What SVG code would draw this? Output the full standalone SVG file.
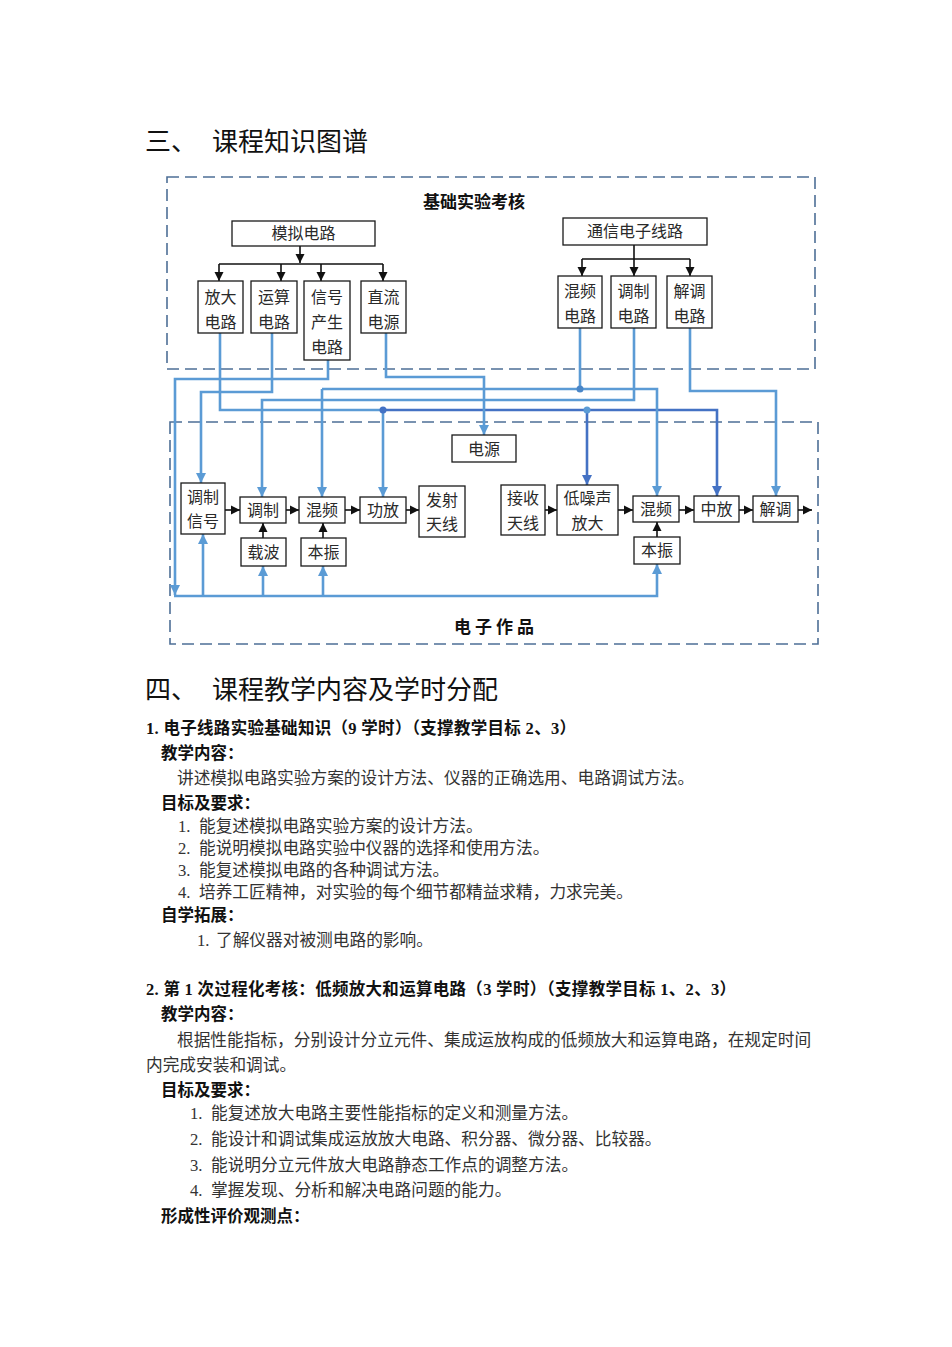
<svg xmlns="http://www.w3.org/2000/svg" width="952" height="1347" viewBox="0 0 952 1347">
<style>
.bg{fill:#fff}
.dash{fill:none;stroke:#4E6F96;stroke-width:1.6;stroke-dasharray:12 6}
.box{fill:#fff;stroke:#1a1a1a;stroke-width:1.3}
.bt{font-family:"Liberation Serif","Noto Sans CJK SC",serif;font-size:16px;fill:#2a2a2a;text-anchor:middle}
.ttl{font-family:"Noto Sans CJK SC",sans-serif;font-size:17px;font-weight:bold;fill:#111;text-anchor:middle}
.blk{fill:none;stroke:#111;stroke-width:1.6}
.bl{fill:none;stroke:#5B9BD5;stroke-width:2.6}
.dk{fill:none;stroke:#4472C4;stroke-width:2.6}
.h1{font-family:"Noto Sans CJK SC",sans-serif;font-size:26px;fill:#111}
.hb{font-family:"Liberation Serif","Noto Sans CJK SC",serif;font-size:16.5px;font-weight:bold;fill:#111}
.tx{font-family:"Liberation Serif","Noto Sans CJK SC",serif;font-size:16.7px;fill:#333}
</style>
<defs>
<marker id="ab" markerUnits="userSpaceOnUse" markerWidth="10" markerHeight="10" refX="9" refY="5" orient="auto"><path d="M0,0.5 L9,5 L0,9.5 z" fill="#111"/></marker>
<marker id="ablue" markerUnits="userSpaceOnUse" markerWidth="11" markerHeight="11" refX="10" refY="5.5" orient="auto"><path d="M0,0.5 L10,5.5 L0,10.5 z" fill="#5B9BD5"/></marker>
<marker id="adark" markerUnits="userSpaceOnUse" markerWidth="11" markerHeight="11" refX="10" refY="5.5" orient="auto"><path d="M0,0.5 L10,5.5 L0,10.5 z" fill="#4472C4"/></marker>
</defs>
<rect class="bg" x="0" y="0" width="952" height="1347"/>

<!-- headings -->
<text class="h1" x="145" y="151">三、</text>
<text class="h1" x="212" y="151">课程知识图谱</text>

<!-- dashed frames -->
<g id="frame-top"><rect class="dash" x="167" y="177" width="648" height="192"/>
<text class="ttl" x="474" y="208">基础实验考核</text></g>
<g id="frame-bottom"><rect class="dash" x="170" y="422" width="648" height="222"/>
<text class="ttl" x="496" y="633" letter-spacing="4">电子作品</text></g>

<!-- connectors -->
<g id="connectors">
<path class="blk" d="M300,246 V263" marker-end="url(#ab)"/>
<path class="blk" d="M219,264 H383"/>
<path class="blk" d="M219,264 V281" marker-end="url(#ab)"/>
<path class="blk" d="M281,264 V281" marker-end="url(#ab)"/>
<path class="blk" d="M321,264 V281" marker-end="url(#ab)"/>
<path class="blk" d="M383,264 V281" marker-end="url(#ab)"/>
<path class="blk" d="M634,245 V276" marker-end="url(#ab)"/>
<path class="blk" d="M582,259 H690"/>
<path class="blk" d="M582,259 V276" marker-end="url(#ab)"/>
<path class="blk" d="M690,259 V276" marker-end="url(#ab)"/>
<path class="blk" d="M225,510 H240" marker-end="url(#ab)"/>
<path class="blk" d="M286,510 H299" marker-end="url(#ab)"/>
<path class="blk" d="M345,510 H360" marker-end="url(#ab)"/>
<path class="blk" d="M406,510 H419" marker-end="url(#ab)"/>
<path class="blk" d="M263,538 V523" marker-end="url(#ab)"/>
<path class="blk" d="M323,538 V523" marker-end="url(#ab)"/>
<path class="blk" d="M545,510 H557" marker-end="url(#ab)"/>
<path class="blk" d="M618,510 H633" marker-end="url(#ab)"/>
<path class="blk" d="M679,510 H694" marker-end="url(#ab)"/>
<path class="blk" d="M739,510 H753" marker-end="url(#ab)"/>
<path class="blk" d="M798,510 H812" marker-end="url(#ab)"/>
<path class="blk" d="M657,537 V522" marker-end="url(#ab)"/>

<path class="bl" d="M220,333 V410 H383"/>
<path class="dk" d="M383,410 H717 V496" marker-end="url(#adark)"/>
<path class="bl" d="M383,410 V497" marker-end="url(#ablue)"/>
<path class="dk" d="M587,410 V485" marker-end="url(#adark)"/>
<path class="bl" d="M272,333 V392 H201 V483" marker-end="url(#ablue)"/>
<path class="bl" d="M328,360 V379 H175 V595" marker-end="url(#ablue)"/>
<path class="bl" d="M174,596 H657 V564" marker-end="url(#ablue)"/>
<path class="bl" d="M203,596 V534" marker-end="url(#ablue)"/>
<path class="bl" d="M263,596 V566" marker-end="url(#ablue)"/>
<path class="bl" d="M323,596 V566" marker-end="url(#ablue)"/>
<path class="bl" d="M386,333 V377 H484 V435" marker-end="url(#ablue)"/>
<path class="bl" d="M580,328 V389"/>
<path class="bl" d="M322,389 H657 V496" marker-end="url(#ablue)"/>
<path class="bl" d="M322,389 V497" marker-end="url(#ablue)"/>
<path class="bl" d="M634,328 V400 H262 V497" marker-end="url(#ablue)"/>
<path class="bl" d="M690,328 V391 H776 V496" marker-end="url(#ablue)"/>
<circle cx="383" cy="410" r="3.5" fill="#4472C4"/>
<circle cx="587" cy="410" r="3.5" fill="#5B9BD5"/>
<circle cx="580" cy="389" r="3.5" fill="#4A86C8"/>
</g>

<g id="n-moni"><rect class="box" x="232" y="221" width="143" height="25"/><text class="bt" x="303.5" y="239">模拟电路</text></g>
<g id="n-fangda"><rect class="box" x="198" y="281" width="45" height="52"/><text class="bt" x="220.5" y="303">放大</text><text class="bt" x="220.5" y="328">电路</text></g>
<g id="n-yunsuan"><rect class="box" x="251" y="281" width="46" height="52"/><text class="bt" x="274" y="303">运算</text><text class="bt" x="274" y="328">电路</text></g>
<g id="n-xinhao"><rect class="box" x="304" y="281" width="46" height="79"/><text class="bt" x="327" y="303">信号</text><text class="bt" x="327" y="328">产生</text><text class="bt" x="327" y="353">电路</text></g>
<g id="n-zhiliu"><rect class="box" x="361" y="281" width="45" height="52"/><text class="bt" x="383.5" y="303">直流</text><text class="bt" x="383.5" y="328">电源</text></g>
<g id="n-tongxin"><rect class="box" x="563" y="218" width="144" height="27"/><text class="bt" x="635" y="237">通信电子线路</text></g>
<g id="n-hunpin-c"><rect class="box" x="558" y="276" width="44" height="52"/><text class="bt" x="580" y="297">混频</text><text class="bt" x="580" y="322">电路</text></g>
<g id="n-tiaozhi-c"><rect class="box" x="611" y="276" width="45" height="52"/><text class="bt" x="633.5" y="297">调制</text><text class="bt" x="633.5" y="322">电路</text></g>
<g id="n-jietiao-c"><rect class="box" x="667" y="276" width="45" height="52"/><text class="bt" x="689.5" y="297">解调</text><text class="bt" x="689.5" y="322">电路</text></g>

<g id="n-dianyuan"><rect class="box" x="452" y="435" width="64" height="27"/><text class="bt" x="484" y="455">电源</text></g>
<g id="n-tzxh"><rect class="box" x="181" y="483" width="44" height="51"/><text class="bt" x="203" y="503">调制</text><text class="bt" x="203" y="527">信号</text></g>
<g id="n-tiaozhi"><rect class="box" x="240" y="497" width="46" height="26"/><text class="bt" x="263" y="516">调制</text></g>
<g id="n-hunpin"><rect class="box" x="299" y="497" width="46" height="26"/><text class="bt" x="322" y="516">混频</text></g>
<g id="n-gongfang"><rect class="box" x="360" y="497" width="46" height="26"/><text class="bt" x="383" y="516">功放</text></g>
<g id="n-fashe"><rect class="box" x="419" y="486" width="46" height="51"/><text class="bt" x="442" y="506">发射</text><text class="bt" x="442" y="530">天线</text></g>
<g id="n-zaibo"><rect class="box" x="241" y="538" width="45" height="28"/><text class="bt" x="263.5" y="558">载波</text></g>
<g id="n-benzhen1"><rect class="box" x="301" y="538" width="45" height="28"/><text class="bt" x="323.5" y="558">本振</text></g>
<g id="n-jieshou"><rect class="box" x="501" y="485" width="44" height="50"/><text class="bt" x="523" y="504">接收</text><text class="bt" x="523" y="529">天线</text></g>
<g id="n-dizao"><rect class="box" x="557" y="485" width="61" height="50"/><text class="bt" x="587.5" y="504">低噪声</text><text class="bt" x="587.5" y="529">放大</text></g>
<g id="n-hunpin2"><rect class="box" x="633" y="496" width="46" height="26"/><text class="bt" x="656" y="515">混频</text></g>
<g id="n-zhongfang"><rect class="box" x="694" y="496" width="45" height="26"/><text class="bt" x="716.5" y="515">中放</text></g>
<g id="n-jietiao"><rect class="box" x="753" y="496" width="45" height="26"/><text class="bt" x="775.5" y="515">解调</text></g>
<g id="n-benzhen2"><rect class="box" x="634" y="537" width="46" height="27"/><text class="bt" x="657" y="556">本振</text></g>

<!-- section 4 text -->
<text class="h1" x="145" y="699">四、</text>
<text class="h1" x="212" y="699">课程教学内容及学时分配</text>
<text class="hb" x="146" y="734" textLength="430" lengthAdjust="spacing">1. 电子线路实验基础知识（9 学时）（支撑教学目标 2、3）</text>
<text class="hb" x="161" y="759">教学内容：</text>
<text class="tx" x="177" y="784">讲述模拟电路实验方案的设计方法、仪器的正确选用、电路调试方法。</text>
<text class="hb" x="161" y="809">目标及要求：</text>
<text class="tx" y="832"><tspan x="178">1.</tspan><tspan x="199">能复述模拟电路实验方案的设计方法。</tspan></text>
<text class="tx" y="854"><tspan x="178">2.</tspan><tspan x="199">能说明模拟电路实验中仪器的选择和使用方法。</tspan></text>
<text class="tx" y="876"><tspan x="178">3.</tspan><tspan x="199">能复述模拟电路的各种调试方法。</tspan></text>
<text class="tx" y="898"><tspan x="178">4.</tspan><tspan x="199">培养工匠精神，对实验的每个细节都精益求精，力求完美。</tspan></text>
<text class="hb" x="161" y="921">自学拓展：</text>
<text class="tx" y="946"><tspan x="197">1.</tspan><tspan x="216">了解仪器对被测电路的影响。</tspan></text>

<text class="hb" x="146" y="995" textLength="590" lengthAdjust="spacing">2. 第 1 次过程化考核：低频放大和运算电路（3 学时）（支撑教学目标 1、2、3）</text>
<text class="hb" x="161" y="1020">教学内容：</text>
<text class="tx" x="177" y="1046">根据性能指标，分别设计分立元件、集成运放构成的低频放大和运算电路，在规定时间</text>
<text class="tx" x="146" y="1071">内完成安装和调试。</text>
<text class="hb" x="161" y="1096">目标及要求：</text>
<text class="tx" y="1119"><tspan x="190">1.</tspan><tspan x="211">能复述放大电路主要性能指标的定义和测量方法。</tspan></text>
<text class="tx" y="1145"><tspan x="190">2.</tspan><tspan x="211">能设计和调试集成运放放大电路、积分器、微分器、比较器。</tspan></text>
<text class="tx" y="1171"><tspan x="190">3.</tspan><tspan x="211">能说明分立元件放大电路静态工作点的调整方法。</tspan></text>
<text class="tx" y="1196"><tspan x="190">4.</tspan><tspan x="211">掌握发现、分析和解决电路问题的能力。</tspan></text>
<text class="hb" x="161" y="1222">形成性评价观测点：</text>
</svg>
